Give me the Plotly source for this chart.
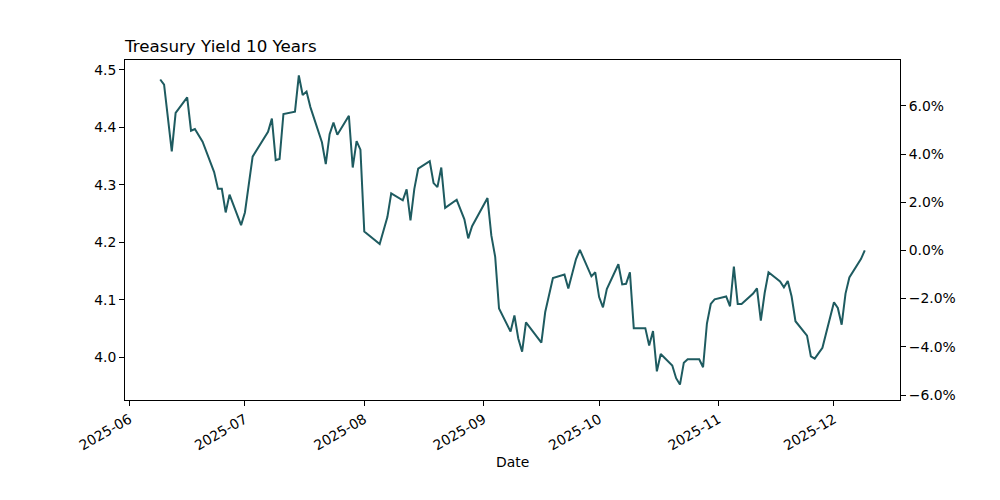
import pandas as pd
import plotly.graph_objects as go

dates = [
    "2025-06-09", "2025-06-10", "2025-06-12", "2025-06-13", "2025-06-16", "2025-06-17", "2025-06-18", "2025-06-20",
    "2025-06-23", "2025-06-24", "2025-06-25", "2025-06-26", "2025-06-27", "2025-06-30",
    "2025-07-01", "2025-07-03", "2025-07-07", "2025-07-08", "2025-07-09", "2025-07-10", "2025-07-11",
    "2025-07-14", "2025-07-15", "2025-07-16", "2025-07-17", "2025-07-18",
    "2025-07-21", "2025-07-22", "2025-07-23", "2025-07-24", "2025-07-25",
    "2025-07-28", "2025-07-29", "2025-07-30", "2025-07-31", "2025-08-01",
    "2025-08-05", "2025-08-07", "2025-08-08",
    "2025-08-11", "2025-08-12", "2025-08-13", "2025-08-14", "2025-08-15",
    "2025-08-18", "2025-08-19", "2025-08-20", "2025-08-21", "2025-08-22",
    "2025-08-25", "2025-08-27", "2025-08-28", "2025-08-29",
    "2025-09-02", "2025-09-03", "2025-09-04", "2025-09-05",
    "2025-09-08", "2025-09-09", "2025-09-10", "2025-09-11", "2025-09-12",
    "2025-09-16", "2025-09-17", "2025-09-19",
    "2025-09-22", "2025-09-23", "2025-09-25", "2025-09-26",
    "2025-09-29", "2025-09-30", "2025-10-01", "2025-10-02", "2025-10-03",
    "2025-10-06", "2025-10-07", "2025-10-08", "2025-10-09", "2025-10-10",
    "2025-10-13", "2025-10-14", "2025-10-15", "2025-10-16", "2025-10-17",
    "2025-10-20", "2025-10-21", "2025-10-22", "2025-10-23", "2025-10-24",
    "2025-10-27", "2025-10-28", "2025-10-29", "2025-10-30", "2025-10-31",
    "2025-11-03", "2025-11-04", "2025-11-05", "2025-11-06", "2025-11-07",
    "2025-11-10", "2025-11-11", "2025-11-12", "2025-11-13", "2025-11-14",
    "2025-11-17", "2025-11-18", "2025-11-19", "2025-11-20", "2025-11-21",
    "2025-11-24", "2025-11-25", "2025-11-26", "2025-11-28",
    "2025-12-01", "2025-12-02", "2025-12-03", "2025-12-04", "2025-12-05",
    "2025-12-08", "2025-12-09",
]

yields = [
    4.483, 4.474, 4.358, 4.425, 4.452, 4.394, 4.397, 4.375,
    4.322, 4.293, 4.293, 4.252, 4.283, 4.230,
    4.252, 4.349, 4.392, 4.415, 4.343, 4.345, 4.423,
    4.427, 4.490, 4.456, 4.462, 4.435,
    4.374, 4.336, 4.388, 4.408, 4.387,
    4.420, 4.330, 4.376, 4.361, 4.219,
    4.197, 4.244, 4.285,
    4.273, 4.292, 4.238, 4.293, 4.328,
    4.341, 4.303, 4.296, 4.330, 4.260,
    4.274, 4.240, 4.207, 4.228,
    4.277, 4.212, 4.175, 4.085,
    4.045, 4.073, 4.033, 4.010, 4.061,
    4.026, 4.079, 4.138,
    4.144, 4.120, 4.171, 4.187,
    4.141, 4.148, 4.105, 4.087, 4.119,
    4.162, 4.127, 4.128, 4.148, 4.051,
    4.051, 4.021, 4.046, 3.976, 4.006,
    3.986, 3.964, 3.953, 3.991, 3.997,
    3.997, 3.983, 4.059, 4.093, 4.101,
    4.106, 4.089, 4.158, 4.093, 4.093,
    4.111, 4.120, 4.064, 4.112, 4.148,
    4.132, 4.122, 4.133, 4.106, 4.063,
    4.038, 4.002, 3.998, 4.017,
    4.096, 4.086, 4.057, 4.111, 4.139,
    4.171, 4.186,
]

left_ticks = [4.0, 4.1, 4.2, 4.3, 4.4, 4.5]
right_ticks = [-6, -4, -2, 0, 2, 4, 6]

title_text = "Treasury Yield 10 Years"
xlabel_text = "Date"
line_color = "#1e5b60"
font_family = "DejaVu Sans"

x = pd.to_datetime(dates)
last = yields[-1]
pct = [(v / last - 1.0) * 100.0 for v in yields]

# matplotlib-like 5% margins
span = x.max() - x.min()
x_lo = x.min() - span * 0.05
x_hi = x.max() + span * 0.05
ymin, ymax = min(yields), max(yields)
yr = ymax - ymin
y_lo = ymin - 0.05 * yr
y_hi = ymax + 0.05 * yr
p_lo = (y_lo / last - 1.0) * 100.0
p_hi = (y_hi / last - 1.0) * 100.0

fig = go.Figure()
fig.add_trace(go.Scatter(x=x, y=yields, mode="lines",
                         line=dict(color=line_color, width=2), showlegend=False))
fig.add_trace(go.Scatter(x=x, y=pct, mode="lines", yaxis="y2",
                         line=dict(color="rgba(0,0,0,0)", width=0),
                         hoverinfo="skip", showlegend=False))

tickfont = dict(family=font_family, size=13.9, color="black")

# page body has an 8px margin, compensate so the plot box lands at 125..900 x 60..400
fig.update_layout(
    width=1000, height=500,
    margin=dict(l=117, r=108, t=52, b=108),
    paper_bgcolor="white", plot_bgcolor="white",
    font=dict(family=font_family, color="black"),
    title=dict(text=title_text, x=117 / 1000, xanchor="left", xref="container",
               y=1 - 44 / 500, yanchor="bottom", yref="container",
               font=dict(family=font_family, size=16.7, color="black"), pad=dict(l=0, t=0, b=0)),
    xaxis=dict(type="date", range=[x_lo, x_hi], showgrid=False, zeroline=False,
               showline=True, linecolor="black", linewidth=1, mirror=True,
               ticks="outside", ticklen=5, tickcolor="black", tickwidth=1,
               tickmode="linear", tick0="2025-06-01", dtick="M1", tickformat="%Y-%m",
               tickangle=-30, tickfont=tickfont),
    yaxis=dict(range=[y_lo, y_hi], showgrid=False, zeroline=False,
               showline=True, linecolor="black", linewidth=1,
               ticks="outside", ticklen=5, tickcolor="black", tickwidth=1,
               tickmode="array", tickvals=left_ticks,
               ticktext=[f"{t:.1f}" for t in left_ticks], tickfont=tickfont),
    yaxis2=dict(range=[p_lo, p_hi], overlaying="y", side="right", showgrid=False,
                zeroline=False, showline=True, linecolor="black", linewidth=1,
                ticks="outside", ticklen=5, tickcolor="black", tickwidth=1,
                tickmode="array", tickvals=right_ticks,
                ticktext=[(f"{t:.1f}%" if t >= 0 else f"\u2212{abs(t):.1f}%") for t in right_ticks],
                tickfont=tickfont),
    annotations=[dict(text=xlabel_text, xref="paper", yref="paper", x=0.5, y=-62 / 340,
                      xanchor="center", yanchor="middle", showarrow=False,
                      font=dict(family=font_family, size=13.9, color="black"))],
)

fig.write_html("out.html")
